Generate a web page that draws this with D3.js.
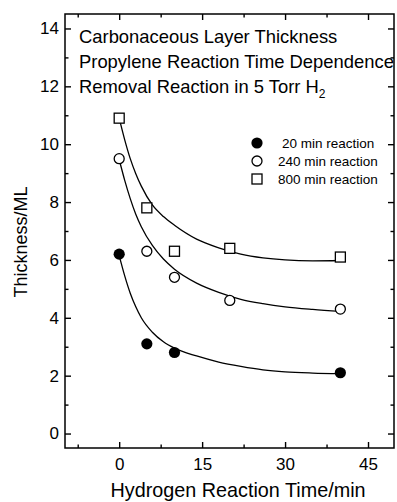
<!DOCTYPE html>
<html>
<head>
<meta charset="utf-8">
<script src="https://cdn.jsdelivr.net/npm/d3@7"></script>
<style>
  body { margin: 0; background: #fff; }
  svg { display: block; font-family: "Liberation Sans", Arial, sans-serif; }
  .axis path { display: none; }
  .axis line { stroke: #000; stroke-width: 1.4; }
  .axis text { font-size: 17px; fill: #000; font-family: "Liberation Sans", Arial, sans-serif; }
</style>
</head>
<body>
<div id="chart"></div>
<script>
const t20 = [0, 5, 10, 40];
const v20 = [6.2, 3.1, 2.8, 2.1];
const t240 = [0, 5, 10, 20, 40];
const v240 = [9.5, 6.3, 5.4, 4.6, 4.3];
const t800 = [0, 5, 10, 20, 40];
const v800 = [10.9, 7.8, 6.3, 6.4, 6.1];

// fitted curves, points
const fitT = [0, 1, 2, 3, 4, 6, 8, 10, 14, 18, 22, 26, 30, 35, 40];
const fit20 = [6.15, 5.45, 4.85, 4.38, 4.0, 3.5, 3.17, 2.95, 2.68, 2.47, 2.32, 2.2, 2.13, 2.09, 2.07];
const fit240 = [9.47, 8.75, 8.12, 7.58, 7.15, 6.5, 6.03, 5.68, 5.2, 4.88, 4.64, 4.49, 4.38, 4.29, 4.22];
const fit800 = [10.9, 10.15, 9.5, 8.98, 8.55, 7.9, 7.5, 7.2, 6.72, 6.42, 6.2, 6.07, 6.0, 5.97, 5.98];

const seriesNames = ["20 min reaction", "240 min reaction", "800 min reaction"];
const xMajor = [0, 15, 30, 45];
const xMinor = [-7.5, 7.5, 22.5, 37.5];
const yMajor = [0, 2, 4, 6, 8, 10, 12, 14];
const yMinor = [1, 3, 5, 7, 9, 11, 13];
const titleLines = ["Carbonaceous Layer Thickness", "Propylene Reaction Time Dependence", "Removal Reaction in 5 Torr H"];

const width = 397, height = 502;
const margin = { left: 65, right: 3, top: 14, bottom: 54 };

const svg = d3.select("#chart").append("svg")
    .attr("width", width)
    .attr("height", height);

const x = d3.scaleLinear().domain([-9.8, 49.7]).range([margin.left, width - margin.right]);
const y = d3.scaleLinear().domain([-0.5, 14.5]).range([height - margin.bottom, margin.top]);

const x0 = margin.left, x1 = width - margin.right;
const y0 = height - margin.bottom, y1 = margin.top;

// axes, ticks pointing inward on all four sides
function addAxis(axis, tx, ty) {
    svg.append("g").attr("class", "axis")
        .attr("transform", "translate(" + tx + "," + ty + ")")
        .call(axis);
}
addAxis(d3.axisBottom(x).tickValues(xMajor).tickSize(-6).tickPadding(10), 0, y0);
addAxis(d3.axisBottom(x).tickValues(xMinor).tickSize(-3.5).tickFormat(""), 0, y0);
addAxis(d3.axisTop(x).tickValues(xMajor).tickSize(-6).tickFormat(""), 0, y1);
addAxis(d3.axisTop(x).tickValues(xMinor).tickSize(-3.5).tickFormat(""), 0, y1);
addAxis(d3.axisLeft(y).tickValues(yMajor).tickSize(-6).tickPadding(6), x0, 0);
addAxis(d3.axisLeft(y).tickValues(yMinor).tickSize(-3.5).tickFormat(""), x0, 0);
addAxis(d3.axisRight(y).tickValues(yMajor).tickSize(-6).tickFormat(""), x1, 0);
addAxis(d3.axisRight(y).tickValues(yMinor).tickSize(-3.5).tickFormat(""), x1, 0);

svg.append("rect")
    .attr("x", x0).attr("y", y1)
    .attr("width", x1 - x0).attr("height", y0 - y1)
    .attr("fill", "none").attr("stroke", "#000").attr("stroke-width", 1.5);

// fit curves
const line = d3.line()
    .x((d, i) => x(fitT[i]))
    .y(d => y(d))
    .curve(d3.curveMonotoneX);

[fit20, fit240, fit800].forEach(f => {
    svg.append("path")
        .attr("d", line(f))
        .attr("fill", "none")
        .attr("stroke", "#000")
        .attr("stroke-width", 1.3);
});

// markers
function marker(g, kind, cx, cy) {
    if (kind == 0) {
        g.append("circle").attr("cx", cx).attr("cy", cy).attr("r", 5.6).attr("fill", "#000");
    } else if (kind == 1) {
        g.append("circle").attr("cx", cx).attr("cy", cy).attr("r", 5)
            .attr("fill", "#fff").attr("stroke", "#000").attr("stroke-width", 1.3);
    } else {
        g.append("rect").attr("x", cx - 5).attr("y", cy - 5).attr("width", 10).attr("height", 10)
            .attr("fill", "#fff").attr("stroke", "#000").attr("stroke-width", 1.3);
    }
}

const pts = svg.append("g");
[[t20, v20], [t240, v240], [t800, v800]].forEach((s, k) => {
    s[0].forEach((t, i) => marker(pts, k, x(t), y(s[1][i])));
});

// title block
const title = svg.append("g").attr("font-size", 18.4);
titleLines.forEach((txt, i) => {
    const tEl = title.append("text")
        .attr("x", 79)
        .attr("y", 43 + i * 25)
        .text(txt);
    if (i == 2) {
        tEl.append("tspan").attr("dy", 5).attr("font-size", 12).text("2");
    }
});

// legend
const legend = svg.append("g");
const legX = [282, 278, 278];
seriesNames.forEach((name, i) => {
    const ly = 143 + i * 18;
    marker(legend, i, 257, ly);
    legend.append("text")
        .attr("x", legX[i])
        .attr("y", ly + 5)
        .attr("font-size", 13.5)
        .text(name);
});

// axis titles
svg.append("text")
    .attr("x", 238)
    .attr("y", 497)
    .attr("text-anchor", "middle")
    .attr("font-size", 19.8)
    .text("Hydrogen Reaction Time/min");

svg.append("text")
    .attr("transform", "translate(27,242) rotate(-90)")
    .attr("text-anchor", "middle")
    .attr("font-size", 18)
    .text("Thickness/ML");
</script>
</body>
</html>
